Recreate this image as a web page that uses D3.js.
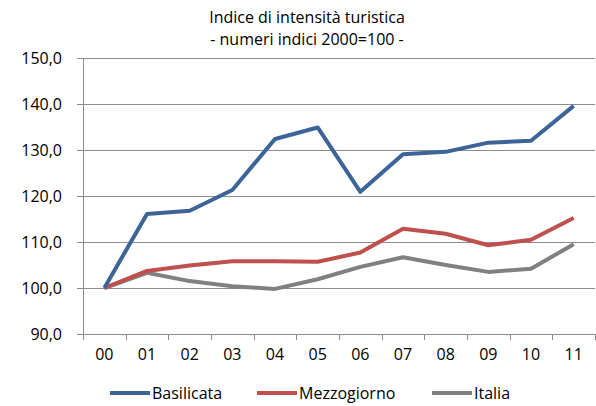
<!DOCTYPE html>
<html>
<head>
<meta charset="utf-8">
<script src="https://cdn.jsdelivr.net/npm/d3@7"></script>
<style>
  body { margin: 0; background: #fff; }
  text { font-family: "Open Sans", "Noto Sans", sans-serif; fill: #000; }
</style>
</head>
<body>
<div id="chart"></div>
<script>
const years = ['00', '01', '02', '03', '04', '05', '06', '07', '08', '09', '10', '11'];
const basilicata = [100, 116.1, 116.8, 121.3, 132.4, 134.9, 120.9, 129.1, 129.6, 131.6, 132.0, 139.6];
const mezzogiorno = [100, 103.7, 104.9, 105.8, 105.8, 105.7, 107.7, 112.9, 111.8, 109.3, 110.5, 115.2];
const italia = [100, 103.3, 101.5, 100.4, 99.8, 101.9, 104.6, 106.7, 105.0, 103.5, 104.2, 109.5];
const yTicks = [90, 100, 110, 120, 130, 140, 150];
const seriesNames = ['Basilicata', 'Mezzogiorno', 'Italia'];
const colors = ['#3d6497', '#c0504d', '#808080'];

const width = 596, height = 406;
const margin = {top: 58, right: 1, bottom: 72, left: 83};
const innerW = width - margin.left - margin.right;
const innerH = height - margin.top - margin.bottom;

const svg = d3.select('#chart').append('svg')
    .attr('width', width)
    .attr('height', height);

// title
const title = svg.append('text')
    .attr('x', 307)
    .attr('text-anchor', 'middle')
    .style('font-size', '16px');
title.append('tspan').attr('x', 307).attr('y', 23).text('Indice di intensità turistica');
title.append('tspan').attr('x', 307).attr('y', 45).text('- numeri indici 2000=100 -');

const g = svg.append('g')
    .attr('transform', `translate(${margin.left}, ${margin.top})`);

const xScale = d3.scaleBand()
    .domain(years)
    .range([0, innerW]);

const yScale = d3.scaleLinear()
    .domain([90, 150])
    .range([innerH, 0]);

// gridlines
g.selectAll('.grid')
    .data(yTicks.filter(d => d > 90))
    .enter().append('line')
    .attr('x1', 0)
    .attr('x2', innerW)
    .attr('y1', d => Math.round(yScale(d)) + 0.5)
    .attr('y2', d => Math.round(yScale(d)) + 0.5)
    .attr('stroke', '#8c8c8c')
    .attr('stroke-width', 1);

// y axis
const yAxis = g.append('g')
    .call(d3.axisLeft(yScale)
        .tickValues(yTicks)
        .tickSize(6)
        .tickPadding(15)
        .tickFormat(d => d3.format('.1f')(d).replace('.', ',')));
yAxis.select('.domain').attr('stroke', '#8c8c8c');
yAxis.selectAll('.tick line').attr('stroke', '#8c8c8c');
yAxis.selectAll('.tick text').style('font-size', '16px');

// x axis
const xAxis = g.append('g')
    .attr('transform', `translate(0, ${innerH})`)
    .call(d3.axisBottom(xScale).tickSize(0).tickPadding(15));
xAxis.select('.domain').attr('stroke', '#8c8c8c');
xAxis.selectAll('.tick text').style('font-size', '16px');

// x tick marks at band boundaries
const boundaries = years.map(d => xScale(d)).concat([innerW]);
xAxis.selectAll('.bound')
    .data(boundaries)
    .enter().append('line')
    .attr('x1', d => Math.round(d) + 0.5)
    .attr('x2', d => Math.round(d) + 0.5)
    .attr('y1', 0)
    .attr('y2', 6)
    .attr('stroke', '#8c8c8c');

// lines
const allSeries = [basilicata, mezzogiorno, italia];
const line = d3.line()
    .x((d, i) => xScale(years[i]) + xScale.bandwidth() / 2)
    .y(d => yScale(d));

// draw Italia first so Basilicata stays on top
[2, 1, 0].forEach(k => {
    g.append('path')
        .datum(allSeries[k])
        .attr('fill', 'none')
        .attr('stroke', colors[k])
        .attr('stroke-width', 4)
        .attr('stroke-linejoin', 'round')
        .attr('d', line);
});

// legend
const legendX = [110, 257, 432];
const legend = svg.append('g');
seriesNames.forEach((name, k) => {
    legend.append('line')
        .attr('x1', legendX[k])
        .attr('x2', legendX[k] + 40)
        .attr('y1', 393)
        .attr('y2', 393)
        .attr('stroke', colors[k])
        .attr('stroke-width', 4);
    legend.append('text')
        .attr('x', legendX[k] + 42)
        .attr('y', 399)
        .style('font-size', '16px')
        .text(name);
});
</script>
</body>
</html>
